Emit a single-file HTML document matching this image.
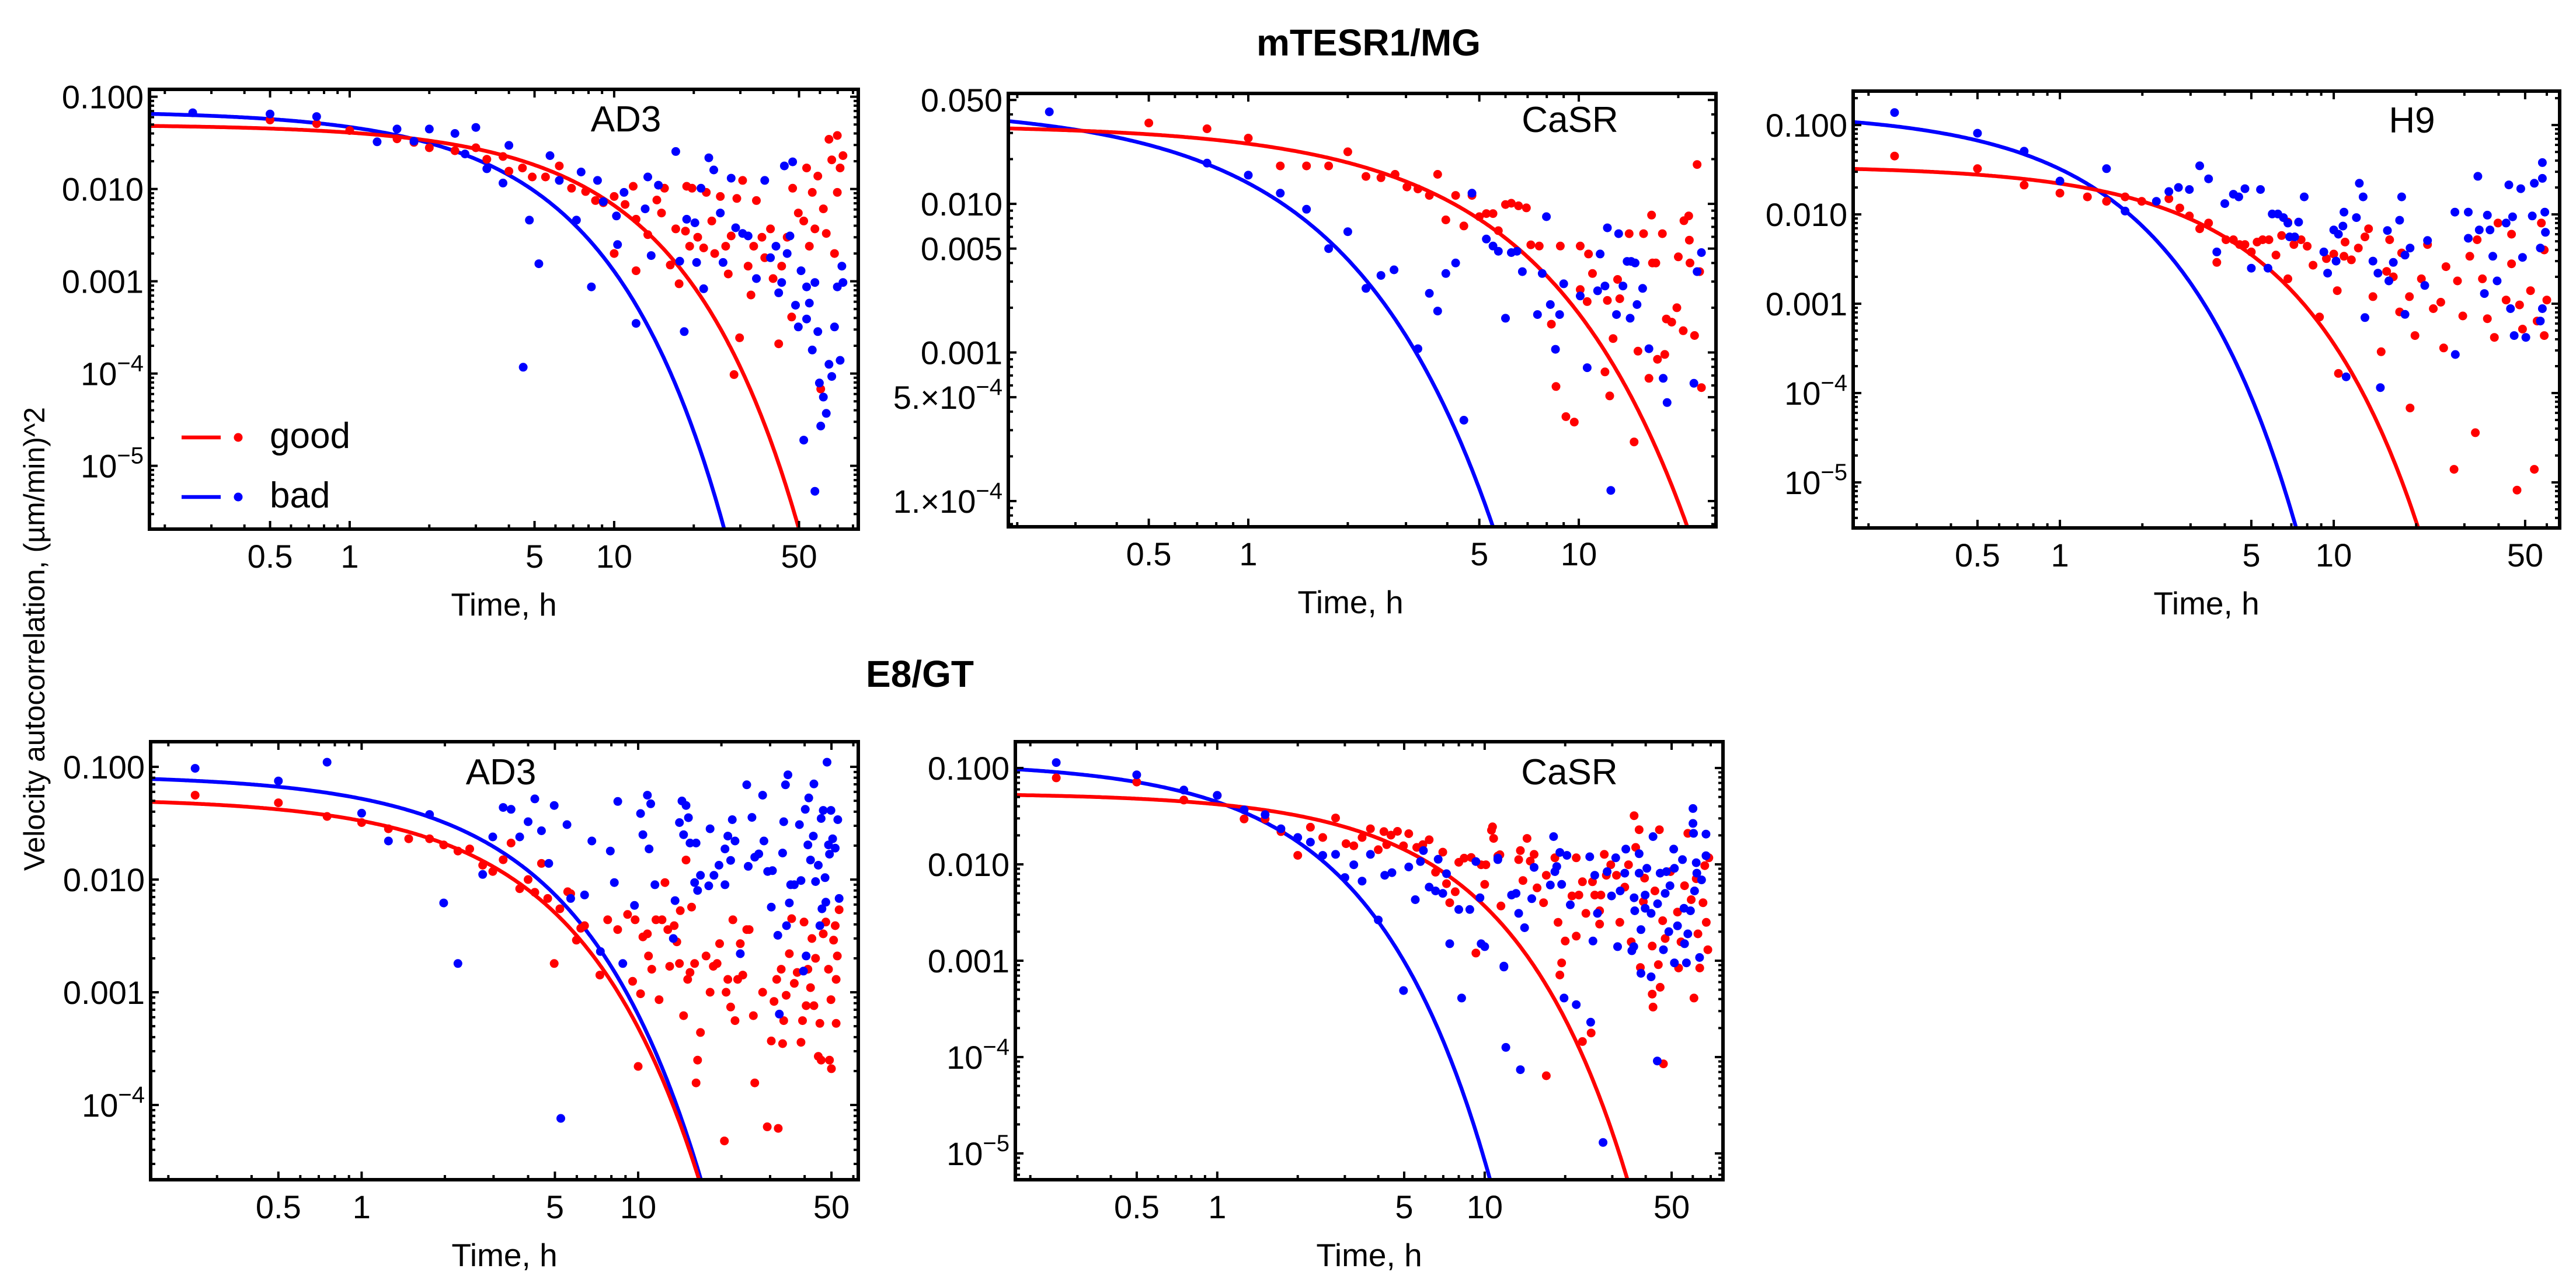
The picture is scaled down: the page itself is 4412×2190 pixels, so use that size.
<!DOCTYPE html>
<html><head><meta charset="utf-8"><style>
html,body{margin:0;padding:0;background:#fff;}
svg{display:block;font-family:"Liberation Sans",Arial,sans-serif;}
</style></head><body>
<svg id="fig" width="4412" height="2190" viewBox="0 0 4412 2190" xmlns="http://www.w3.org/2000/svg">
<rect x="0" y="0" width="4412" height="2190" fill="#fff"/>
<text x="2344" y="95" font-size="64" font-weight="bold" text-anchor="middle">mTESR1/MG</text>
<text x="1483" y="1176" font-size="64" font-weight="bold">E8/GT</text>
<text transform="translate(76,1094) rotate(-90)" font-size="50" text-anchor="middle">Velocity autocorrelation, (µm/min)^2</text>
</svg>
<script>
// ---------------- data ----------------
const p1Good=[[0.5,0.056],[0.75,0.051],[1,0.043],[1.51,0.035],[1.75,0.032],[2,0.028],[2.5,0.026],[3,0.028],[3.3,0.021],[3.8,0.0225],[4,0.0156],[4.5,0.0169],[4.9,0.0135],[5.5,0.0135],[6.2,0.0178],[6.9,0.0102],[7.8,0.0094],[8.5,0.0075],[9.1,0.0071],[10,0.0083],[11,0.0068],[11.8,0.0107],[12.1,0.0047],[13.4,0.0032],[14.5,0.0076],[15.1,0.0055],[15.5,0.0102],[16.3,0.0015],[17.1,0.0037],[17.6,0.00094],[18.6,0.0035],[19.3,0.0024],[19.7,0.0102],[20.7,0.003],[21.8,0.0023],[22.3,0.0092],[23.4,0.0045],[24,0.002],[25.2,0.0083],[26.4,0.0024],[27,0.0012],[27.7,0.0031],[28.4,0.0000975],[29.1,0.0079],[29.8,0.000244],[30.6,0.0124],[32.1,0.00146],[32.9,0.00071],[33.7,0.0024],[34.5,0.0075],[36.2,0.003],[37.1,0.0018],[39,0.0037],[39.9,0.00107],[41.9,0.00021],[43,0.00146],[45.1,0.003],[46.9,0.00041],[47.3,0.0102],[49.7,0.0055],[52.1,0.0045],[53.4,0.0169],[54.7,0.0024],[56.1,0.0092],[57.4,0.0037],[58.9,0.0138],[60.4,0.000068],[61.8,0.0061],[63.4,0.0033],[64.9,0.0346],[66.5,0.0207],[68.1,0.002],[69.8,0.0092],[71.5,0.0169],[73.3,0.023],[69.8,0.038],[10,0.002],[12.1,0.0013],[18.8,0.0107]];
const p1Bad=[[0.255,0.067],[0.5,0.065],[0.75,0.061],[1.27,0.0325],[1.51,0.0447],[1.75,0.033],[2,0.0447],[2.5,0.04],[2.73,0.024],[3,0.0465],[3.3,0.0166],[3.8,0.0116],[4,0.0297],[4.78,0.0046],[5.19,0.00155],[5.72,0.023],[6.2,0.0124],[7.2,0.0046],[7.5,0.0153],[8.2,0.00087],[8.65,0.0124],[9.1,0.0073],[10.2,0.0051],[10.3,0.0025],[10.9,0.0092],[12.1,0.00035],[13.1,0.0061],[13.4,0.0135],[13.8,0.0019],[14.7,0.011],[17.1,0.0255],[17.7,0.00165],[18.4,0.000285],[18.8,0.0047],[20.2,0.0043],[20.5,0.0016],[21.3,0.0102],[21.8,0.00083],[22.8,0.0218],[23.8,0.0161],[25.2,0.0055],[25.8,0.0016],[27.7,0.0131],[28.8,0.0038],[30.6,0.0033],[32.1,0.0031],[34.5,0.00107],[37.1,0.0124],[39,0.0018],[40.9,0.0024],[41.9,0.00075],[43,0.00097],[44,0.0178],[45.1,0.002],[46.2,0.0031],[47.3,0.0197],[48.5,0.00055],[49.7,0.00032],[50.9,0.0013],[52.1,0.000019],[53.4,0.00039],[54.7,0.00058],[56.1,0.00018],[57.4,0.0000053],[58.9,0.000285],[59.7,0.000079],[60.4,0.000027],[61.8,0.0000556],[63.4,0.000037],[64.9,0.000126],[66.5,0.000093],[68.1,0.00032],[69.8,0.00087],[71.5,0.000139],[73.3,0.00097],[72.6,0.00146],[4.53,0.000117],[53.4,0.00087],[57.4,0.00097]];
const p2Good=[[0.5,0.035],[0.75,0.032],[1,0.0277],[1.25,0.018],[1.5,0.018],[1.75,0.018],[2,0.0224],[2.27,0.0153],[2.52,0.015],[2.78,0.0158],[3.02,0.013],[3.26,0.0126],[3.53,0.0114],[3.74,0.0158],[3.96,0.0078],[4.24,0.0114],[4.49,0.0071],[4.75,0.0114],[5,0.0082],[5.25,0.0086],[5.5,0.0086],[5.71,0.0066],[6,0.0099],[6.25,0.0101],[6.57,0.0097],[6.94,0.0094],[7.16,0.0053],[7.59,0.0052],[8.26,0.00155],[8.53,0.00059],[8.79,0.0052],[9.14,0.00037],[9.69,0.00034],[10.1,0.00265],[10.1,0.0052],[10.6,0.0022],[10.7,0.0046],[11,0.0034],[12,0.00074],[12.2,0.00224],[12.4,0.00051],[12.7,0.00124],[13.1,0.0031],[13.3,0.0023],[14.2,0.0063],[14.7,0.00025],[15.1,0.00102],[15.7,0.0063],[16.3,0.00067],[16.6,0.0084],[16.7,0.004],[17.1,0.004],[17.3,0.0009],[17.9,0.0063],[18.2,0.00097],[18.4,0.00168],[19.1,0.0016],[19.8,0.002],[20,0.0044],[20.7,0.0014],[20.8,0.0077],[21.5,0.0083],[21.7,0.004],[22.4,0.0013],[22.8,0.0184],[23.2,0.0035],[23.5,0.00058],[21.6,0.0057]];
const p2Bad=[[0.25,0.0416],[0.75,0.0188],[1,0.0156],[1.25,0.0118],[1.5,0.0092],[1.75,0.005],[2,0.0065],[2.27,0.0027],[2.52,0.0033],[2.76,0.0036],[3.26,0.00106],[3.53,0.0025],[3.74,0.0019],[3.96,0.0034],[4.24,0.004],[4.49,0.00035],[4.75,0.0118],[5.25,0.0058],[5.5,0.0052],[5.71,0.0048],[6,0.0017],[6.25,0.0047],[6.5,0.0048],[6.75,0.0035],[7.75,0.0034],[7.98,0.0082],[7.5,0.0018],[8.2,0.0021],[8.5,0.00105],[8.75,0.0018],[9,0.0029],[10.1,0.0024],[10.6,0.00079],[11.6,0.0046],[11.4,0.0026],[12,0.0028],[12.2,0.0069],[12.5,0.000118],[13,0.0018],[13.2,0.0063],[13.6,0.0028],[14,0.0041],[14.3,0.0017],[14.4,0.0041],[14.8,0.004],[15,0.0021],[15.6,0.0027],[16.3,0.00106],[18,0.00067],[18.5,0.00046],[22.3,0.00062],[22.8,0.0035],[23.5,0.0047]];
const p3Good=[[0.249,0.045],[0.5,0.0325],[0.74,0.0213],[1,0.0173],[1.26,0.0157],[1.48,0.014],[1.73,0.0157],[1.99,0.014],[2.5,0.015],[2.74,0.0118],[2.97,0.0096],[3.24,0.0069],[3.49,0.008],[3.74,0.0029],[4.04,0.0052],[4.3,0.0052],[4.53,0.0046],[4.74,0.0046],[5,0.0038],[5.25,0.0049],[5.5,0.0052],[5.8,0.0052],[6.15,0.0035],[6.45,0.0058],[6.8,0.0082],[6.8,0.0019],[7.15,0.0046],[7.6,0.0052],[8,0.0044],[8.4,0.0027],[8.87,0.00071],[9.4,0.0032],[10,0.0036],[10.3,0.0014],[10.4,0.000166],[10.9,0.0034],[11,0.0049],[11.6,0.0031],[12.3,0.0042],[13,0.0056],[13.4,0.0069],[13.9,0.0012],[14.9,0.00029],[15.6,0.0023],[16,0.0052],[16.5,0.002],[17.4,0.00081],[17.7,0.0037],[18.9,0.0012],[19,0.000068],[19.8,0.00044],[20.9,0.0019],[22,0.0046],[23.1,0.00088],[24.6,0.00104],[25.2,0.00032],[25.7,0.0026],[27.5,0.000014],[28.3,0.0018],[29.6,0.00073],[31.4,0.0034],[32.9,0.000036],[33.4,0.0052],[34.9,0.0019],[36.4,0.00068],[38.6,0.00042],[39.8,0.008],[42.6,0.0011],[44.6,0.0028],[46.7,0.0000082],[47.7,0.00097],[48.9,0.00052],[52.3,0.0014],[54,0.000014],[55.3,0.00064],[57.3,0.008],[58.7,0.004],[58.7,0.00044],[60,0.0011],[44.6,0.006]];
const p3Bad=[[0.249,0.138],[0.5,0.081],[0.74,0.051],[1,0.0236],[1.48,0.0325],[1.73,0.0109],[2.25,0.014],[2.5,0.018],[2.71,0.02],[2.97,0.019],[3.24,0.035],[3.49,0.025],[3.74,0.0038],[4,0.0132],[4.3,0.0168],[4.5,0.0157],[4.74,0.0194],[5,0.0025],[5.4,0.019],[5.75,0.0025],[5.96,0.0101],[6.25,0.0101],[6.55,0.0092],[6.8,0.008],[6.9,0.0056],[7.2,0.0056],[7.44,0.0082],[7.8,0.0157],[9.2,0.0038],[9.5,0.0022],[10,0.0067],[10.2,0.003],[10.4,0.006],[10.8,0.0074],[10.9,0.0106],[11.1,0.000152],[12.1,0.0092],[12.4,0.0223],[12.8,0.0157],[13,0.0007],[13.9,0.003],[14.5,0.0022],[14.8,0.000115],[15.7,0.0066],[15.9,0.0018],[16.5,0.0029],[17.4,0.0086],[17.7,0.0157],[18.2,0.0035],[18.2,0.00076],[19,0.0042],[21.5,0.0016],[22,0.0051],[27.8,0.00027],[27.7,0.0106],[31,0.0106],[31,0.0054],[33.6,0.0267],[34,0.0067],[35.5,0.0013],[36.4,0.0098],[37.2,0.0067],[38.1,0.0034],[39.5,0.0018],[42.6,0.008],[43.6,0.0214],[44.2,0.00088],[45,0.0094],[45.6,0.00044],[48.2,0.0194],[48.9,0.0033],[50.3,0.00042],[53.1,0.0096],[54,0.0223],[56.8,0.00064],[56.8,0.0042],[57.8,0.038],[57.8,0.00088],[59,0.0106],[59.3,0.0063],[57.8,0.0253]];
const p4Good=[[0.25,0.056],[0.5,0.048],[0.75,0.0363],[1,0.032],[1.25,0.0282],[1.48,0.023],[1.76,0.023],[1.98,0.0203],[2.23,0.0179],[2.46,0.0187],[2.74,0.0134],[2.98,0.0118],[3.25,0.015],[3.47,0.0211],[3.73,0.0083],[4,0.01],[4.23,0.0077],[4.47,0.0139],[4.71,0.0068],[4.97,0.0018],[5.21,0.0055],[5.56,0.0078],[5.7,0.0075],[5.98,0.0029],[6.2,0.0037],[6.4,0.0039],[7.27,0.00142],[7.76,0.0044],[8.43,0.0036],[9.16,0.0049],[9.55,0.00125],[9.75,0.0044],[10,0.00022],[10.2,0.00097],[10.4,0.0031],[10.8,0.0033],[10.9,0.0021],[11.2,0.0016],[11.6,0.0044],[11.9,0.00086],[12.2,0.0044],[12.5,0.0094],[12.8,0.0036],[13,0.0017],[13.5,0.0039],[13.8,0.0028],[14.1,0.0018],[14.2,0.0053],[14.6,0.00062],[14.9,0.0149],[15.1,0.0013],[15.4,0.0015],[15.6,0.0057],[16,0.0018],[16.2,0.000157],[16.4,0.00025],[16.8,0.00044],[17.6,0.0021],[18.2,0.001],[18.7,0.0017],[19.3,0.0018],[19.7,0.0027],[20.5,0.000048],[20.8,0.001],[21.1,0.0013],[21.6,0.00074],[22,0.0044],[22.4,0.00056],[22.9,0.0013],[23.4,0.0027],[23.9,0.00142],[24.7,0.0036],[25.2,0.0036],[26.1,0.00062],[26.4,0.000157],[28.2,0.001],[29.3,0.000064],[30.3,0.00037],[31,0.00083],[31.7,0.0013],[32.1,0.000062],[32.9,0.0016],[33.3,0.00035],[33.6,0.00056],[34.3,0.00094],[35.2,0.0022],[35.9,0.0045],[36.7,0.0012],[37.6,0.0015],[38.8,0.00036],[39.3,0.00056],[39.8,0.0042],[40.5,0.00076],[41.1,0.0016],[42,0.0011],[42.5,0.003],[43.2,0.00076],[43.8,0.002],[44.8,0.00027],[45.4,0.00053],[45.9,0.00025],[46.7,0.0033],[47.7,0.0042],[48.8,0.0016],[49.2,0.00025],[49.8,0.00086],[50,0.00021],[50.9,0.0029],[51.6,0.0039],[52,0.0013],[52.5,0.0021],[53.3,0.0054],[52,0.00053]];
const p4Bad=[[0.25,0.097],[0.5,0.075],[0.75,0.11],[1,0.0388],[1.25,0.022],[1.76,0.0378],[1.98,0.0062],[2.23,0.0018],[2.74,0.0111],[2.98,0.0239],[3.25,0.0436],[3.47,0.042],[3.73,0.0239],[4,0.0326],[4.23,0.052],[4.47,0.0271],[4.75,0.0139],[4.97,0.0454],[5.25,0.000076],[5.53,0.0307],[5.7,0.0068],[6.4,0.0073],[6.8,0.022],[7.3,0.0023],[7.93,0.0179],[8.2,0.0094],[8.44,0.0493],[8.8,0.0018],[9.7,0.0059],[10.2,0.0385],[10.4,0.025],[10.8,0.056],[10.95,0.0187],[11.1,0.047],[11.5,0.009],[13.4,0.003],[13.6,0.0065],[14.1,0.032],[14.4,0.0498],[14.6,0.025],[14.9,0.0454],[15.2,0.0354],[15.4,0.0211],[16.2,0.0211],[16,0.0094],[16.4,0.008],[16.8,0.0109],[18.2,0.0282],[18,0.0088],[18.8,0.0109],[19.6,0.0134],[20.6,0.009],[20.6,0.0187],[21.1,0.0243],[21.6,0.0148],[21.9,0.034],[22.4,0.022],[23.4,0.0022],[24.7,0.0693],[25,0.0131],[25.8,0.0356],[26.4,0.0158],[27.3,0.0169],[28.2,0.056],[28.5,0.022],[29.4,0.0118],[30.3,0.0057],[30.6,0.012],[32,0.0032],[32.4,0.00064],[33.3,0.0172],[33.6,0.0326],[34.1,0.0693],[34.4,0.0039],[34.8,0.085],[35.2,0.0062],[35.6,0.009],[36.7,0.009],[38.3,0.0307],[38.8,0.0098],[39.6,0.00154],[40.2,0.042],[40.5,0.0021],[41.1,0.0203],[41.4,0.053],[42,0.0149],[43,0.0243],[43.2,0.0705],[43.8,0.0096],[44.8,0.0134],[45.4,0.0039],[45.9,0.0348],[46.2,0.0055],[46.7,0.0411],[47.4,0.0104],[47.7,0.0063],[48.2,0.11],[48.8,0.0203],[49.2,0.0168],[49.8,0.0411],[50.5,0.023],[51.6,0.019],[52.7,0.034],[53.3,0.0068]];
const p5Good=[[0.25,0.079],[0.5,0.0715],[0.75,0.0465],[1,0.052],[1.26,0.0296],[1.51,0.0296],[1.73,0.0219],[2,0.0124],[2.23,0.0243],[2.48,0.019],[2.77,0.0303],[3.03,0.0164],[3.24,0.0156],[3.48,0.019],[3.74,0.0234],[4,0.0142],[4.2,0.0219],[4.3,0.016],[4.46,0.0201],[4.72,0.022],[4.97,0.0156],[5.2,0.0208],[5.57,0.015],[5.87,0.016],[6.2,0.018],[6.55,0.0083],[6.97,0.0134],[7.2,0.0063],[7.4,0.004],[7.76,0.0052],[8,0.0105],[8.38,0.0116],[8.9,0.0118],[9.27,0.0012],[9.7,0.0099],[10,0.0062],[10.1,0.0099],[10.6,0.0226],[10.7,0.0245],[11.4,0.0126],[11.5,0.0037],[17,0.000064],[10.8,0.0186],[11.2,0.0122],[13.4,0.0112],[13.6,0.0139],[13.9,0.0068],[14.4,0.0186],[14.8,0.0108],[15.3,0.0127],[15.7,0.0057],[16.6,0.004],[17,0.0077],[18.3,0.0117],[18.8,0.0025],[19.1,0.00071],[19.4,0.00095],[20,0.0016],[21.2,0.0047],[22,0.0018],[22,0.0117],[22.5,0.0048],[23.2,0.0066],[23.9,0.0031],[25,0.000178],[23.2,0.000145],[25.3,0.0066],[25.8,0.0048],[26.9,0.0033],[26.9,0.0024],[27.2,0.0048],[28,0.0127],[28.5,0.0077],[29.6,0.0099],[31.1,0.0077],[32,0.0025],[33.4,0.0058],[34.5,0.0099],[35.3,0.00157],[36.2,0.032],[36.7,0.015],[37.8,0.0229],[38.2,0.00085],[39.2,0.0041],[39.6,0.0072],[42.3,0.00142],[42.3,0.00045],[42.6,0.00033],[43.3,0.0053],[44.6,0.00091],[45,0.0229],[45.3,0.00053],[46.3,0.0026],[46.6,0.000085],[47.3,0.0017],[49.5,0.0084],[52.6,0.0032],[53.1,0.00084],[54.2,0.00157],[55.9,0.006],[57.5,0.021],[59.2,0.0043],[60.6,0.00041],[62.7,0.0019],[63.7,0.00084],[65.5,0.004],[67.4,0.0025],[68.3,0.0013],[68.9,0.0117],[66.5,0.0097],[61.8,0.0071]];
const p5Bad=[[0.25,0.114],[0.5,0.085],[0.75,0.059],[1,0.052],[1.26,0.0368],[1.51,0.0328],[1.73,0.0234],[2,0.019],[2.23,0.017],[2.48,0.0124],[2.77,0.0127],[3,0.0073],[3.24,0.0099],[3.48,0.0067],[3.74,0.0127],[4,0.00265],[4.23,0.0077],[4.5,0.0082],[4.97,0.00049],[5.2,0.0094],[5.5,0.0043],[5.75,0.0107],[5.9,0.0139],[6.2,0.0058],[6.55,0.0053],[6.7,0.0113],[6.97,0.005],[7.2,0.008],[7.4,0.0015],[8,0.0034],[8.2,0.00041],[8.8,0.0034],[9.27,0.0107],[9.6,0.0045],[9.7,0.0015],[10,0.0014],[11.2,0.0116],[11.8,0.00088],[12,0.000126],[13.6,0.000074],[11.2,0.0112],[11.8,0.00086],[12.6,0.0048],[13.1,0.005],[13.4,0.0031],[14.1,0.0022],[15,0.0044],[15.3,0.0093],[17.6,0.0061],[18.1,0.0194],[18.3,0.0084],[18.6,0.0095],[19.1,0.0133],[19.4,0.0062],[19.8,0.00041],[20.3,0.0124],[20.9,0.0038],[22,0.00035],[24.7,0.012],[24.9,0.00023],[25.4,0.0016],[25.8,0.0077],[26.4,0.0031],[27.7,0.000013],[28.7,0.0084],[29.8,0.0047],[30.9,0.0117],[31.4,0.0014],[32.1,0.0053],[33.4,0.0081],[33.7,0.0144],[35.5,0.00127],[36.1,0.0014],[36.2,0.0045],[36.4,0.0033],[37.8,0.0129],[38.4,0.0021],[38.4,0.00074],[37.8,0.0081],[39.8,0.0048],[39.8,0.0035],[40.4,0.0091],[41.9,0.0031],[41.9,0.00068],[42.6,0.0194],[44.2,0.000091],[44.3,0.0039],[45.3,0.0081],[46.6,0.0013],[47.3,0.005],[47.8,0.0084],[48.8,0.002],[49.3,0.006],[50.9,0.0144],[51.2,0.00095],[51.2,0.0091],[52.6,0.0023],[54.9,0.0112],[55.6,0.0035],[55.9,0.0015],[56.8,0.00095],[57.5,0.0019],[58.8,0.0033],[60.1,0.038],[60.1,0.0266],[60.4,0.021],[60.9,0.0053],[61.8,0.0104],[62.1,0.0081],[63.6,0.00108],[64.7,0.0069],[67.2,0.0206],[67.2,0.0123]];
// fit parameters: amplitude A and decay time tau (h), model A*exp(-t/tau)
const fitGoodA=[0.05,0.034,0.035,0.053,0.055];
const fitGoodTau=[4.95,3.42,2.18,2.13,3.7];
const fitBadA=[0.07,0.045,0.14,0.085,0.115];
const fitBadTau=[2.5,0.845,0.68,2.04,1.05];
const panelNames=["AD3","CaSR","H9","AD3","CaSR"];
const xTickValues=[0.5,1,5,10,50];
const xTickLabels=["0.5","1","5","10","50"];
const yTickValuesStd=[0.1,0.01,0.001,1e-4,1e-5];
const yTickLabelsStd=[["0.100"],["0.010"],["0.001"],["10","−4"],["10","−5"]];
const yTickValuesP2=[0.05,0.01,0.005,0.001,5e-4,1e-4];
const yTickLabelsP2=[["0.050"],["0.010"],["0.005"],["0.001"],["5.×10","−4"],["1.×10","−4"]];

// ---------------- layout ----------------
const panels=[
 {x0:256,x1:1470,y0:153,y1:906,lx0:-0.757,lx1:1.923,ly0:-0.92,ly1:-5.686,good:p1Good,bad:p1Bad,lab:[1072,203],yv:yTickValuesStd,yl:yTickLabelsStd,legend:true},
 {x0:1727,x1:2939,y0:160,y1:902,lx0:-0.726,lx1:1.415,ly0:-1.257,ly1:-4.173,good:p2Good,bad:p2Bad,lab:[2689,204],yv:yTickValuesP2,yl:yTickLabelsP2},
 {x0:3174,x1:4384,y0:156,y1:904,lx0:-0.755,lx1:1.825,ly0:-0.62,ly1:-5.51,good:p3Good,bad:p3Bad,lab:[4131,205],yv:yTickValuesStd,yl:yTickLabelsStd},
 {x0:258,x1:1470,y0:1270,y1:2020,lx0:-0.763,lx1:1.796,ly0:-0.777,ly1:-4.663,good:p4Good,bad:p4Bad,lab:[858,1321],yv:yTickValuesStd,yl:yTickLabelsStd},
 {x0:1739,x1:2951,y0:1270,y1:2020,lx0:-0.755,lx1:1.891,ly0:-0.727,ly1:-5.273,good:p5Good,bad:p5Bad,lab:[2688,1321],yv:yTickValuesStd,yl:yTickLabelsStd}
];
const NS="http://www.w3.org/2000/svg";
const svg=document.getElementById("fig");
function mk(tag,attrs,parent){const e=document.createElementNS(NS,tag);for(const k in attrs)e.setAttribute(k,attrs[k]);(parent||svg).appendChild(e);return e;}
const RED="#ff0000",BLUE="#0000ff";
panels.forEach((p,i)=>{
 const g=mk("g",{});
 
 
 const sx=v=>p.x0+(Math.log10(v)-p.lx0)/(p.lx1-p.lx0)*(p.x1-p.x0);
 const sy=v=>p.y0+(p.ly0-Math.log10(v))/(p.ly0-p.ly1)*(p.y1-p.y0);
 const cp=mk("clipPath",{id:"clip"+i},g);
 mk("rect",{x:p.x0,y:p.y0,width:p.x1-p.x0,height:p.y1-p.y0},cp);
 const plot=mk("g",{"clip-path":"url(#clip"+i+")"},g);
 [[fitBadA[i],fitBadTau[i],BLUE,'bad'],[fitGoodA[i],fitGoodTau[i],RED,'good']].forEach(([A,tau,col,nm])=>{
  let d="";
  for(let k=0;k<=400;k++){const lt=p.lx0+(p.lx1-p.lx0)*k/400;const t=Math.pow(10,lt);let v=A*Math.exp(-t/tau);if(v<1e-12)v=1e-12;let yy=sy(v);if(yy>p.y1+200)yy=p.y1+200;d+=(k?"L":"M")+sx(t).toFixed(1)+","+yy.toFixed(1);}
  const path=mk("path",{d:d,fill:"none",stroke:col,"stroke-width":6.5},plot);
  
  
 });
 [[p.good,RED,'good'],[p.bad,BLUE,'bad']].forEach(([arr,col,nm])=>{
  arr.forEach(pt=>{
   const c=mk("circle",{cx:sx(pt[0]).toFixed(1),cy:sy(pt[1]).toFixed(1),r:7.5,fill:col},plot);
   
   
  });
 });
 const tg=mk("g",{stroke:"#000","stroke-width":4},g);
 for(let n=-2;n<=2;n++)for(let k=1;k<=9;k++){
  const v=k*Math.pow(10,n);const lv=Math.log10(v);
  if(lv<=p.lx0+0.005||lv>=p.lx1-0.005)continue;
  const major=xTickValues.some(m=>Math.abs(m-v)<1e-9);
  const L=major?14:8;const x=sx(v);
  mk("line",{x1:x,y1:p.y1,x2:x,y2:p.y1-L},tg);
  mk("line",{x1:x,y1:p.y0,x2:x,y2:p.y0+L},tg);
 }
 for(let n=-6;n<=0;n++)for(let k=1;k<=9;k++){
  const v=k*Math.pow(10,n);const lv=Math.log10(v);
  if(lv>=p.ly0-0.003||lv<=p.ly1+0.003)continue;
  const major=p.yv.some(m=>Math.abs(Math.log10(m)-lv)<1e-6);
  const L=major?14:8;const y=sy(v);
  mk("line",{x1:p.x0,y1:y,x2:p.x0+L,y2:y},tg);
  mk("line",{x1:p.x1,y1:y,x2:p.x1-L,y2:y},tg);
 }
 xTickValues.forEach((v,j)=>{
  const lv=Math.log10(v);if(lv<p.lx0||lv>p.lx1)return;
  const t=mk("text",{x:sx(v),y:p.y1+66,"font-size":56,"text-anchor":"middle"},g);
  t.textContent=xTickLabels[j];
  
  
 });
 p.yv.forEach((v,j)=>{
  const lv=Math.log10(v);if(lv>p.ly0||lv<p.ly1)return;
  const lab=p.yl[j];
  const t=mk("text",{x:p.x0-10,y:sy(v)+20,"font-size":56,"text-anchor":"end"},g);
  
  
  const s1=mk("tspan",{},t);s1.textContent=lab[0];
  if(lab.length>1){const s2=mk("tspan",{dy:-24,"font-size":40},t);s2.textContent=lab[1];}
 });
 const xt=mk("text",{x:(p.x0+p.x1)/2+(i===1?-20:0),y:p.y1+148,"font-size":55,"text-anchor":"middle"},g);
 xt.textContent="Time, h";
 
 
 const pl=mk("text",{x:p.lab[0],y:p.lab[1]+22,"font-size":62,"text-anchor":"middle"},g);
 pl.textContent=panelNames[i];
 
 
 const fr=mk("rect",{x:p.x0,y:p.y0,width:p.x1-p.x0,height:p.y1-p.y0,fill:"none",stroke:"#000","stroke-width":6},g);
 
 
 if(p.legend){
  const lg=mk("g",{},g);
  
  
  [[749,RED,"good"],[851,BLUE,"bad"]].forEach(([y,col,txt])=>{
   const e=mk("g",{},lg);
   
   
   mk("line",{x1:311,y1:y,x2:378,y2:y,stroke:col,"stroke-width":6.5},e);
   mk("circle",{cx:408,cy:y,r:7.5,fill:col},e);
   const t=mk("text",{x:462,y:y+18,"font-size":62},e);
   t.textContent=txt;
  });
 }
});
</script>
</body></html>
